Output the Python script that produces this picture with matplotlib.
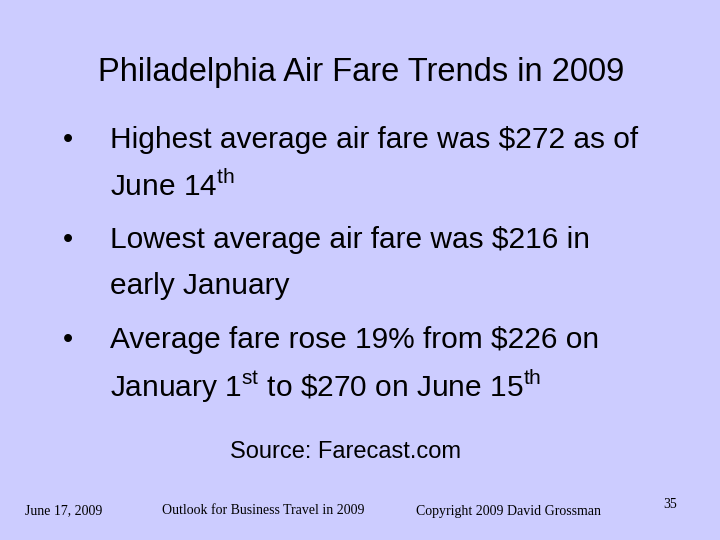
import matplotlib
matplotlib.use('Agg')
import matplotlib.pyplot as plt

plt.rcParams['mathtext.fontset'] = 'custom'
plt.rcParams['mathtext.rm'] = 'Liberation Sans'

title = "Philadelphia Air Fare Trends in 2009"
bullets = [
    ["Highest average air fare was $272 as of", r"June 14$^{\mathrm{th}}$"],
    ["Lowest average air fare was $216 in", "early January"],
    ["Average fare rose 19% from $226 on",
     r"January 1$^{\mathrm{st}}$ to \$270 on June 15$^{\mathrm{th}}$"],
]
source = "Source: Farecast.com"
footer_date = "June 17, 2009"
footer_mid = "Outlook for Business Travel in 2009"
footer_copy = "Copyright 2009 David Grossman"
page_no = "35"

W, H = 720, 540
fig = plt.figure(figsize=(7.2, 5.4), dpi=100)
fig.patch.set_facecolor('#CCCCFF')

def put(x, y, s, **kw):
    fig.text(x / W, 1 - y / H, s, va='center', **kw)

sans = dict(family='Liberation Sans', color='black')
serif = dict(family='Liberation Serif', color='black', fontsize=10)

put(361, 72, title, ha='center', fontsize=23.5, **sans)
y = 140
for first, second in bullets:
    put(68, y, "•", ha='center', fontsize=21, **sans)
    put(110, y, first, ha='left', fontsize=21.5, **sans)
    put(110, y + 46, second, ha='left', fontsize=21.5, **sans)
    y += 100

put(346, 452, source, ha='center', fontsize=17, **sans)
put(25, 511, footer_date, ha='left', **serif)
put(263, 511, footer_mid, ha='center', **serif)
put(508, 511, footer_copy, ha='center', **serif)
put(670, 505, page_no, ha='center', **serif)

fig.savefig('out.png', dpi=100, facecolor=fig.get_facecolor())
